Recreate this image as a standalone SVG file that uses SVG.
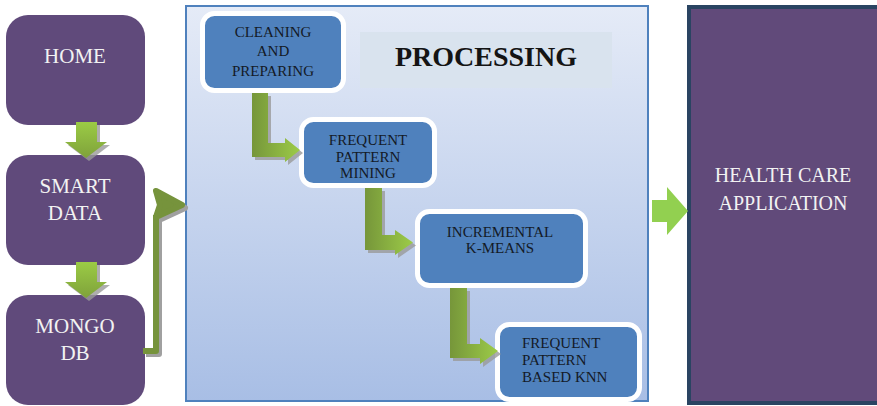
<svg xmlns="http://www.w3.org/2000/svg" width="877" height="406" viewBox="0 0 877 406">
  <defs>
    <linearGradient id="procFill" x1="0" y1="0" x2="0" y2="1">
      <stop offset="0" stop-color="#e5ebf7"/>
      <stop offset="1" stop-color="#a8bee5"/>
    </linearGradient>
    <linearGradient id="bendFill" x1="0" y1="0" x2="1" y2="0">
      <stop offset="0" stop-color="#76963a"/>
      <stop offset="1" stop-color="#9ccb48"/>
    </linearGradient>
    <linearGradient id="downFill" x1="0" y1="0" x2="0" y2="1">
      <stop offset="0" stop-color="#9bcb45"/>
      <stop offset="1" stop-color="#7fa23b"/>
    </linearGradient>
    <style>
      text { font-family: 'Liberation Serif', 'Times New Roman', serif; }
      .side { fill: #604a7b; }
      .side-text { font-size: 21px; fill: #f2f2f2; text-anchor: middle; }
      .app-text { font-size: 20px; fill: #f2f2f2; text-anchor: middle; }
      .step { fill: #4f81bd; stroke: #ffffff; stroke-width: 5; }
      .step-text { font-size: 15px; fill: #141a26; text-anchor: middle; }
      .step-left { font-size: 15px; fill: #141a26; text-anchor: start; }
      .title { font-size: 28px; font-weight: bold; fill: #141414; text-anchor: middle; }
      .shadow { fill: #9a9a9a; opacity: 0.8; }
      .bend { fill: url(#bendFill); }
      .down { fill: url(#downFill); }
    </style>
  </defs>

  <rect width="877" height="406" fill="#ffffff"/>

  <!-- left column -->
  <g id="home">
    <rect class="side" x="6" y="15" width="139" height="110" rx="22"/>
    <text class="side-text" x="75" y="63">HOME</text>
  </g>
  <g id="smart-data">
    <rect class="side" x="6" y="155" width="139" height="110" rx="22"/>
    <text class="side-text" x="75" y="193">SMART</text>
    <text class="side-text" x="75" y="220">DATA</text>
  </g>
  <g id="mongo-db">
    <rect class="side" x="6" y="295" width="139" height="110" rx="22"/>
    <text class="side-text" x="75" y="333">MONGO</text>
    <text class="side-text" x="75" y="360">DB</text>
  </g>

  <!-- processing panel -->
  <g id="processing">
    <rect x="186" y="6" width="462" height="395" fill="url(#procFill)" stroke="#4f81bd" stroke-width="2"/>
    <rect x="360" y="32" width="252" height="56" fill="#d9e3ee"/>
    <text class="title" x="486" y="66">PROCESSING</text>
  </g>

  <g id="cleaning">
    <rect class="step" x="202.5" y="13.5" width="141" height="77" rx="12"/>
    <text class="step-text" x="273" y="37">CLEANING</text>
    <text class="step-text" x="273" y="56">AND</text>
    <text class="step-text" x="273" y="76">PREPARING</text>
  </g>
  <g id="fp-mining">
    <rect class="step" x="301.5" y="119.5" width="133" height="66" rx="12"/>
    <text class="step-text" x="368" y="145">FREQUENT</text>
    <text class="step-text" x="368" y="162">PATTERN</text>
    <text class="step-text" x="368" y="178">MINING</text>
  </g>
  <g id="incremental-kmeans">
    <rect class="step" x="417.5" y="211.5" width="168" height="74" rx="12"/>
    <text class="step-text" x="500" y="237">INCREMENTAL</text>
    <text class="step-text" x="500" y="253">K-MEANS</text>
  </g>
  <g id="fp-knn">
    <rect class="step" x="497.5" y="324.5" width="142" height="75" rx="12"/>
    <text class="step-left" x="522" y="348">FREQUENT</text>
    <text class="step-left" x="522" y="365">PATTERN</text>
    <text class="step-left" x="522" y="382">BASED KNN</text>
  </g>

  <!-- right column -->
  <g id="health-care">
    <rect x="689" y="7" width="192" height="396" fill="#614a7a" stroke="#2a4462" stroke-width="4"/>
    <text class="app-text" x="783" y="182">HEALTH CARE</text>
    <text class="app-text" x="783" y="210">APPLICATION</text>
  </g>

  <!-- connectors -->
  <g id="connectors">
    <!-- downward arrows in the left column -->
    <path class="shadow" transform="translate(3,3)" d="M76,122 H97 V142 H107 L86,158 L65,142 H76 Z"/>
    <path class="down" d="M76,122 H97 V142 H107 L86,158 L65,142 H76 Z"/>
    <path class="shadow" transform="translate(3,3)" d="M76,262 H97 V282 H107 L86,298 L65,282 H76 Z"/>
    <path class="down" d="M76,262 H97 V282 H107 L86,298 L65,282 H76 Z"/>

    <!-- MONGO DB into processing -->
    <g transform="translate(3,3)" stroke="#a0a0a0" fill="#a0a0a0" stroke-width="6" stroke-linejoin="round" stroke-linecap="round">
      <path d="M143,351 H156 V215" fill="none" stroke-linecap="butt"/>
      <path d="M156,191 L182,205 L156,217 L160,205 Z"/>
    </g>
    <g stroke="#76933c" fill="#76933c" stroke-width="6" stroke-linejoin="round" stroke-linecap="round">
      <path d="M143,351 H156 V215" fill="none" stroke-linecap="butt"/>
      <path d="M156,191 L182,205 L156,217 L160,205 Z"/>
    </g>

    <!-- bent arrows between processing steps -->
    <path class="shadow" transform="translate(3,3)" d="M252,93 H268 V143 H285 V138 L300,150 L285,162 V157 H252 Z"/>
    <path class="bend" d="M252,93 H268 V143 H285 V138 L300,150 L285,162 V157 H252 Z"/>
    <path class="shadow" transform="translate(3,3)" d="M365,188 H382 V235 H395 V230 L413,242.5 L395,255 V250 H365 Z"/>
    <path class="bend" d="M365,188 H382 V235 H395 V230 L413,242.5 L395,255 V250 H365 Z"/>
    <path class="shadow" transform="translate(3,3)" d="M450,288 H467 V344 H480 V338 L498,351 L480,364 V358 H450 Z"/>
    <path class="bend" d="M450,288 H467 V344 H480 V338 L498,351 L480,364 V358 H450 Z"/>

    <!-- processing to application -->
    <path d="M652,200 H667 V187 L688,211 L667,235 V222 H652 Z" fill="#92d050"/>
  </g>
</svg>
